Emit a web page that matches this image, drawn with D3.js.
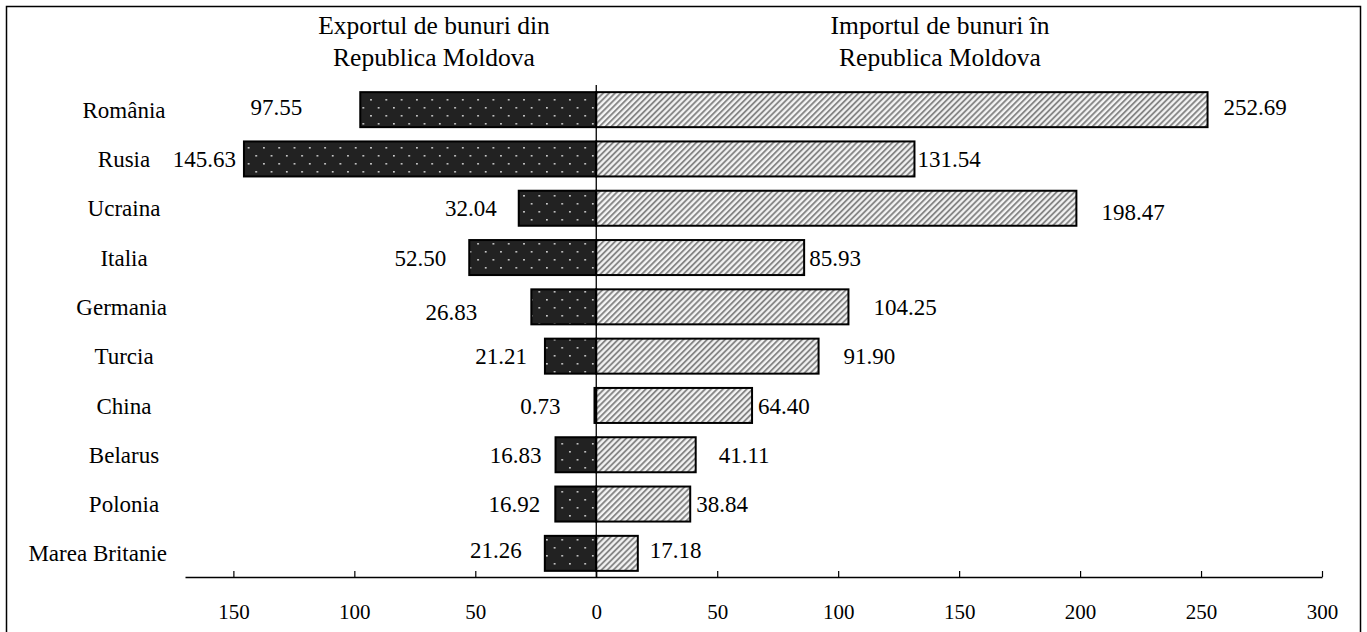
<!DOCTYPE html>
<html>
<head>
<meta charset="utf-8">
<script src="https://cdn.jsdelivr.net/npm/d3@7"></script>
<style>
  body { margin: 0; background: #fff; }
  svg { display: block; font-family: "Liberation Serif", "Times New Roman", serif; }
</style>
</head>
<body>
<svg></svg>
<script>
const width = 1367;
const height = 632;

// data
const countries = ["România", "Rusia", "Ucraina", "Italia", "Germania", "Turcia", "China", "Belarus", "Polonia", "Marea Britanie"];
const exportValues = [97.55, 145.63, 32.04, 52.50, 26.83, 21.21, 0.73, 16.83, 16.92, 21.26];
const importValues = [252.69, 131.54, 198.47, 85.93, 104.25, 91.90, 64.40, 41.11, 38.84, 17.18];
const tickValues = [-150, -100, -50, 0, 50, 100, 150, 200, 250, 300];
const exportTitle = ["Exportul de bunuri din", "Republica Moldova"];
const importTitle = ["Importul de bunuri în", "Republica Moldova"];

// label nudges (gap from bar end, vertical shift), hand-placed like in the original
const exportGap = [58, 8, 22, 23, 54, 18, 34, 14, 15, 23];
const importGap = [16, 3, 25, 5, 25, 25, 6, 23, 6, 12];
const exportDy = [-3, 0, 0, 0, 5, 0, 0, 0, 0, -3];
const importDy = [-3, 0, 4, 0, 0, 0, 0, 0, 0, -3];

const svg = d3.select("svg").attr("width", width).attr("height", height);

const x = d3.scaleLinear().domain([-170, 300]).range([185, 1322]);
const y = d3.scaleBand().domain(countries).range([85, 578]).paddingInner(0.29).paddingOuter(0.145);

const defs = svg.append("defs");
const dots = defs.append("pattern").attr("id", "dots")
    .attr("patternUnits", "userSpaceOnUse").attr("width", 15.3).attr("height", 16);
dots.append("rect").attr("width", 15.3).attr("height", 16).attr("fill", "#222");
dots.append("rect").attr("x", 3).attr("y", 3).attr("width", 1.6).attr("height", 1.6).attr("fill", "#ddd");
dots.append("rect").attr("x", 10.6).attr("y", 11).attr("width", 1.6).attr("height", 1.6).attr("fill", "#ddd");

const hatch = defs.append("pattern").attr("id", "hatch")
    .attr("patternUnits", "userSpaceOnUse").attr("width", 4.2).attr("height", 4.2)
    .attr("patternTransform", "rotate(45)");
hatch.append("rect").attr("width", 4.2).attr("height", 4.2).attr("fill", "#f4f4f4");
hatch.append("line").attr("x1", 1).attr("x2", 1).attr("y1", 0).attr("y2", 4.2)
    .attr("stroke", "#808080").attr("stroke-width", 1.8);

svg.append("rect").attr("width", width).attr("height", height).attr("fill", "#fff");
svg.append("rect")
    .attr("x", 6.5).attr("y", 6.5).attr("width", 1354).attr("height", 700)
    .attr("fill", "none").attr("stroke", "#000").attr("stroke-width", 1.5);

// titles
const titles = svg.append("g").attr("font-size", 25.5).attr("text-anchor", "middle");
titles.selectAll(".exp").data(exportTitle).join("text")
    .attr("x", 434).attr("y", (d, i) => 34 + i * 32).text(d => d);
titles.selectAll(".imp").data(importTitle).join("text")
    .attr("x", 940).attr("y", (d, i) => 34 + i * 32).text(d => d);

// bars
svg.append("g").selectAll("rect").data(countries).join("rect")
    .attr("x", (d, i) => x(-exportValues[i]))
    .attr("y", d => y(d))
    .attr("width", (d, i) => x(0) - x(-exportValues[i]))
    .attr("height", y.bandwidth())
    .attr("fill", "url(#dots)").attr("stroke", "#000").attr("stroke-width", 2);

svg.append("g").selectAll("rect").data(countries).join("rect")
    .attr("x", x(0))
    .attr("y", d => y(d))
    .attr("width", (d, i) => x(importValues[i]) - x(0))
    .attr("height", y.bandwidth())
    .attr("fill", "url(#hatch)").attr("stroke", "#000").attr("stroke-width", 2);

// center line
svg.append("line")
    .attr("x1", x(0)).attr("x2", x(0)).attr("y1", 85).attr("y2", 577)
    .attr("stroke", "#000").attr("stroke-width", 1.3);

// value labels
const mid = d => y(d) + y.bandwidth() / 2;
svg.append("g").attr("font-size", 23).attr("text-anchor", "end")
    .selectAll("text").data(countries).join("text")
    .attr("x", (d, i) => x(-exportValues[i]) - exportGap[i])
    .attr("y", (d, i) => mid(d) + exportDy[i])
    .attr("dy", "0.35em")
    .text((d, i) => exportValues[i].toFixed(2));

svg.append("g").attr("font-size", 23).attr("text-anchor", "start")
    .selectAll("text").data(countries).join("text")
    .attr("x", (d, i) => x(importValues[i]) + importGap[i])
    .attr("y", (d, i) => mid(d) + importDy[i])
    .attr("dy", "0.35em")
    .text((d, i) => importValues[i].toFixed(2));

// category labels: centred, but pushed left when too wide
svg.append("g").attr("font-size", 23).attr("text-anchor", "middle")
    .selectAll("text").data(countries).join("text")
    .attr("x", 124).attr("y", d => mid(d)).attr("dy", "0.35em")
    .text(d => d)
    .each(function () {
        const w = this.getComputedTextLength();
        if (124 + w / 2 > 167) d3.select(this).attr("x", 167 - w / 2);
    });

// axis
const axis = svg.append("g").attr("transform", "translate(0,577)")
    .call(d3.axisBottom(x).tickValues(tickValues).tickSizeInner(-6).tickSizeOuter(0)
        .tickPadding(27).tickFormat(d => Math.abs(d)));
axis.select(".domain").attr("stroke-width", 1.3);
axis.selectAll(".tick line").attr("stroke-width", 1.2);
axis.selectAll("text").attr("font-size", 21).attr("font-family", "Liberation Serif, serif").attr("fill", "#000");
</script>
</body>
</html>
